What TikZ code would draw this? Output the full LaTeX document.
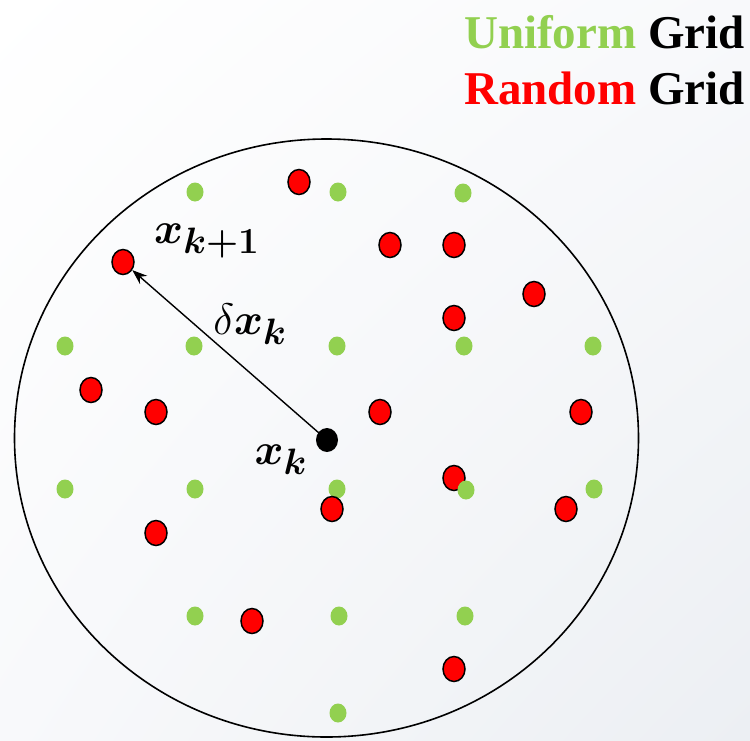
\documentclass[tikz,border=0pt]{standalone}
\usepackage{amsmath}
\usepackage{graphicx}
\usepackage{fontspec}
\setmainfont{Liberation Serif}
\usetikzlibrary{shapes.geometric,arrows.meta,shadings}
\definecolor{ugreen}{RGB}{146,208,80}
\definecolor{bgcorner}{RGB}{236,239,243}
\definecolor{bgmid}{RGB}{248,249,251}
\newcommand{\biglabel}[1]{\scalebox{1.77}{\Huge $#1$}}
\tikzset{
  gdot/.style={shape=ellipse,fill=ugreen,draw=none,minimum width=17pt,minimum height=19pt,inner sep=0pt},
  rdot/.style={shape=ellipse,fill=red,draw=black,line width=1.5pt,minimum width=22pt,minimum height=25pt,inner sep=0pt},
  kdot/.style={shape=ellipse,fill=black,minimum width=22pt,minimum height=24pt,inner sep=0pt},
  legend/.style={font=\rmfamily\bfseries\fontsize{47}{50}\selectfont,inner sep=0pt,anchor=base east},
  mlabel/.style={inner sep=0pt}
}
\begin{document}
\begin{tikzpicture}[x=1pt,y=-1pt]
\useasboundingbox (0,0) rectangle (750,740);
\shade[upper left=white,upper right=bgmid,lower left=bgmid,lower right=bgcorner] (0,0) rectangle (750,740);
\node[ellipse,draw=black,line width=1.6pt,minimum width=624pt,minimum height=598pt,inner sep=0pt] (disk) at (326.5,438) {};
% legend
\node[legend] (leg1) at (745,48) {\textcolor{ugreen}{Uniform} Grid};
\node[legend] (leg2) at (745,104) {\textcolor{red}{Random} Grid};
% uniform grid
\node[gdot] (g1) at (195,192) {};
\node[gdot] (g2) at (338,192) {};
\node[gdot] (g3) at (463,193) {};
\node[gdot] (g4) at (65,346) {};
\node[gdot] (g5) at (194,346) {};
\node[gdot] (g6) at (337,346) {};
\node[gdot] (g7) at (464,346) {};
\node[gdot] (g8) at (593,346) {};
\node[gdot] (g9) at (65,489) {};
\node[gdot] (g10) at (195,489) {};
\node[gdot] (g11) at (337,489) {};
\node[gdot] (g13) at (594,489) {};
\node[gdot] (g14) at (195,616) {};
\node[gdot] (g15) at (339,616) {};
\node[gdot] (g16) at (465,616) {};
\node[gdot] (g17) at (338,713) {};
% random grid
\node[rdot] (r1) at (299,182) {};
\node[rdot] (r2) at (390,245) {};
\node[rdot] (r3) at (454,245) {};
\node[rdot] (r4) at (534,294) {};
\node[rdot] (r5) at (454,318) {};
\node[rdot] (xk1) at (123,262) {};
\node[rdot] (r7) at (91,390) {};
\node[rdot] (r8) at (156,412) {};
\node[rdot] (r9) at (380,412) {};
\node[rdot] (r10) at (581,412) {};
\node[rdot] (r11) at (454,478) {};
\node[gdot] (g12) at (466,490) {};
\node[rdot] (r12) at (332,509) {};
\node[rdot] (r13) at (566,509) {};
\node[rdot] (r14) at (156,533) {};
\node[rdot] (r15) at (252,621) {};
\node[rdot] (r16) at (454,669) {};
% current point
\node[kdot] (xk) at (327,440) {};
\draw[line width=1.4pt,-{Stealth[length=15pt,width=11pt]}] (xk.center) -- (xk1);
\node[mlabel] (lk1) at (207,241) {\biglabel{\boldsymbol{x}_{\boldsymbol{k+1}}}};
\node[mlabel] (ldx) at (250,324) {\biglabel{\delta\boldsymbol{x}_{\boldsymbol{k}}}};
\node[mlabel] (lk) at (281,460) {\biglabel{\boldsymbol{x}_{\boldsymbol{k}}}};
\end{tikzpicture}
\end{document}
